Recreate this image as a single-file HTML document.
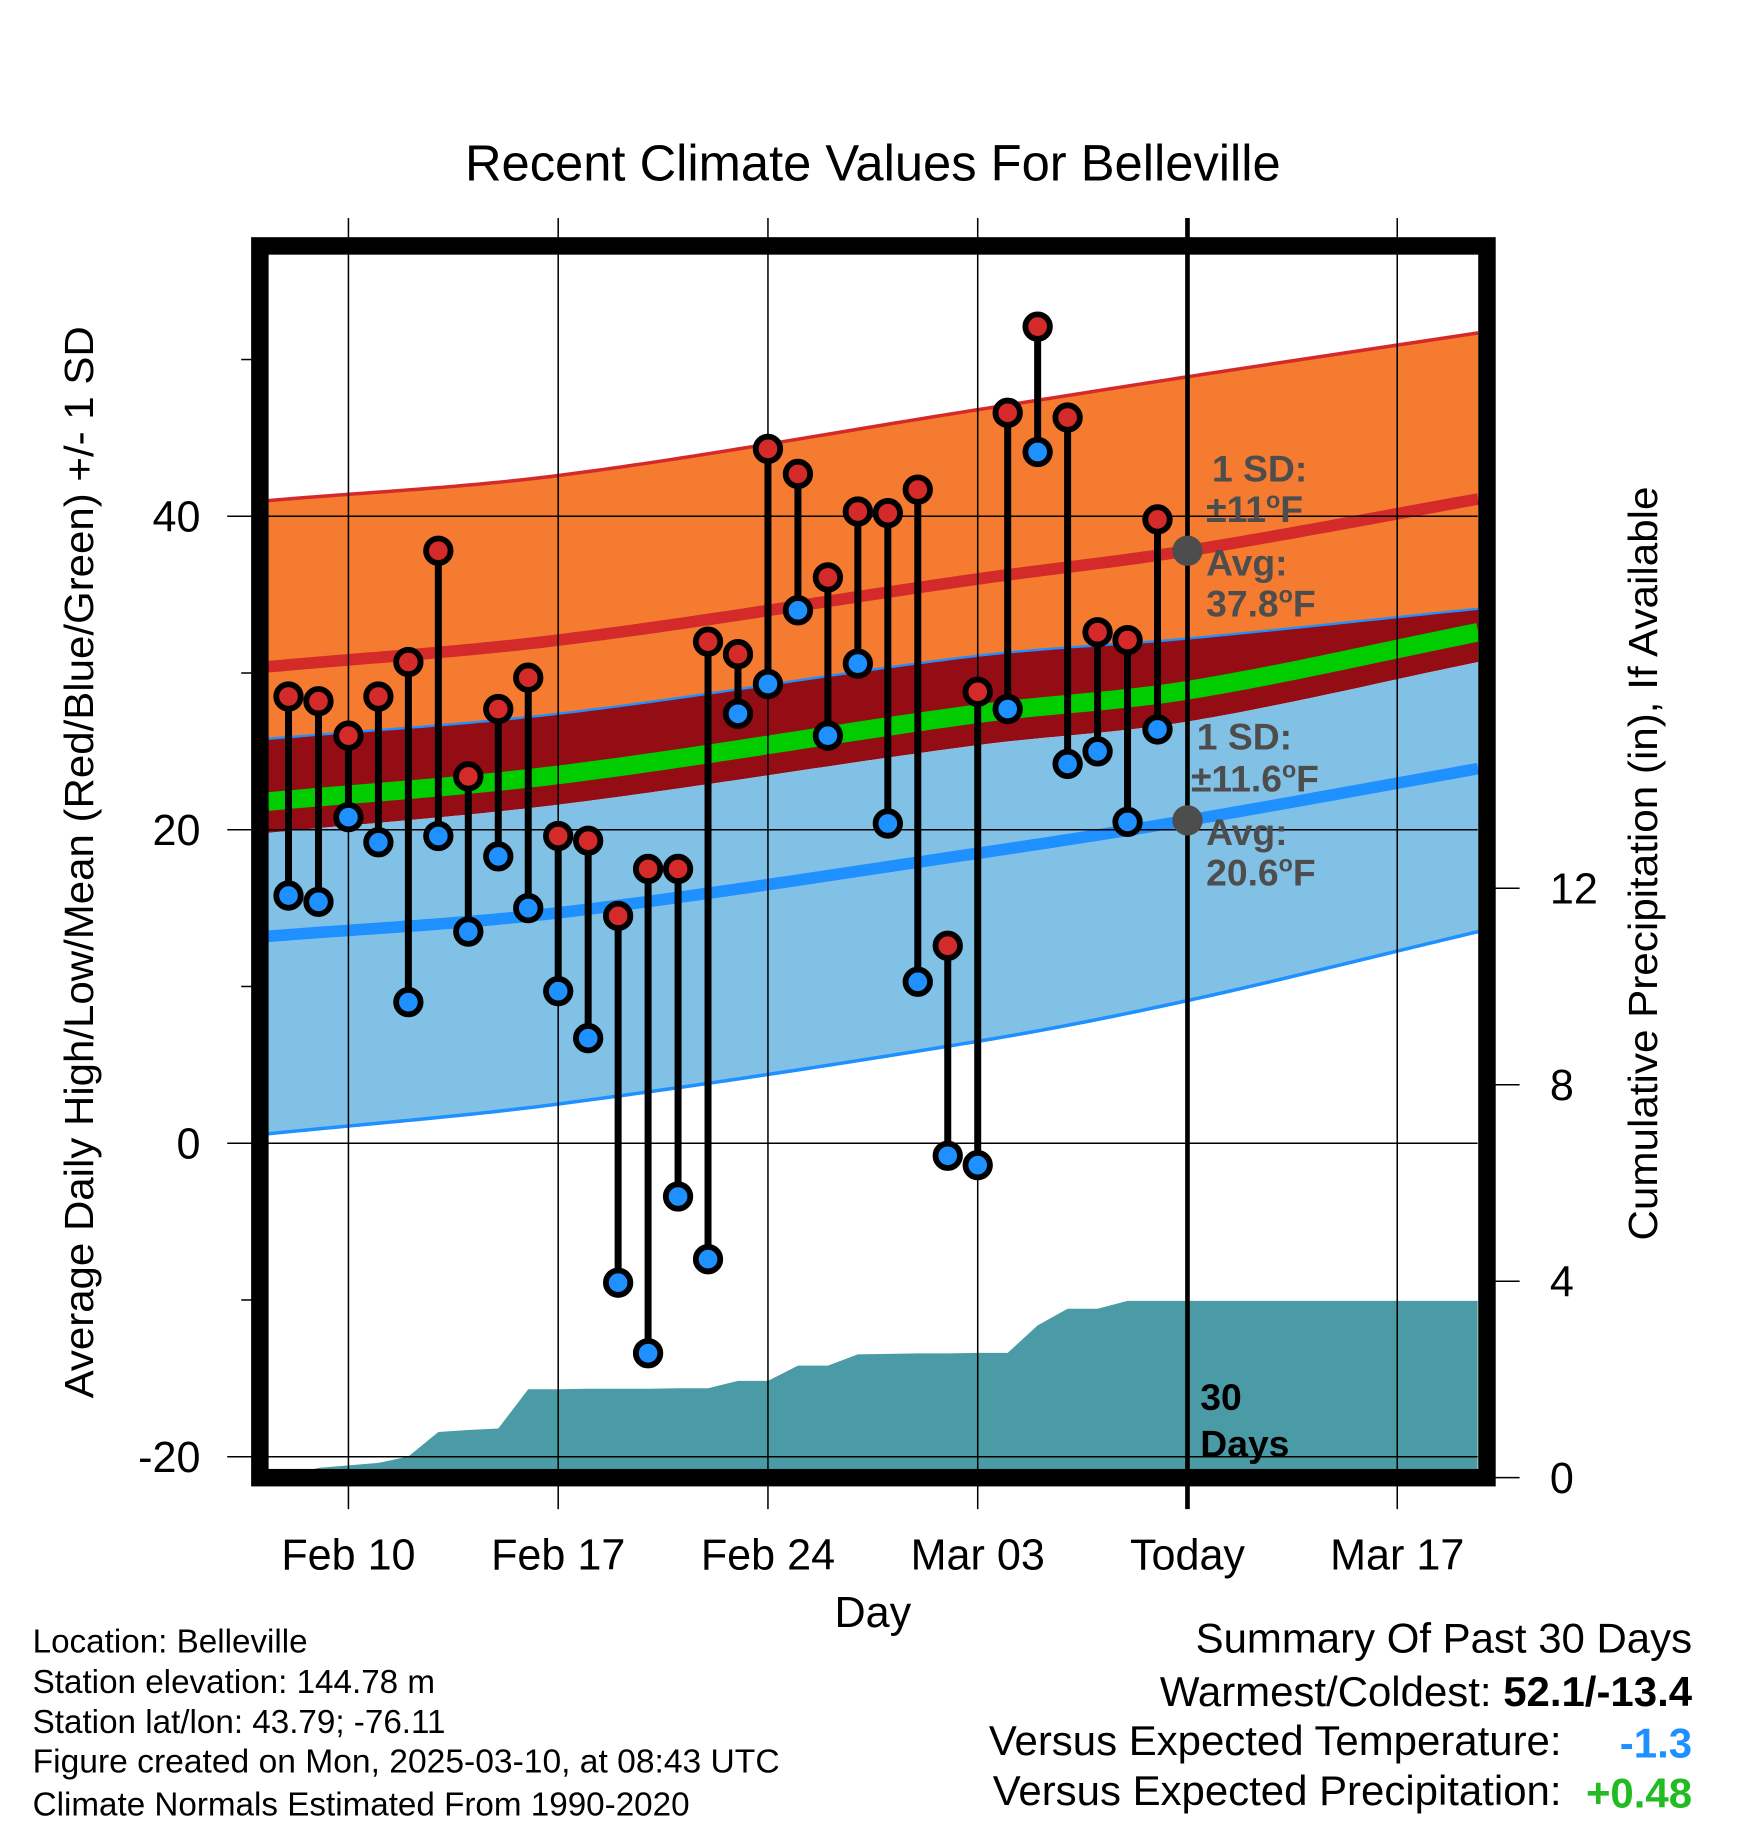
<!DOCTYPE html>
<html><head><meta charset="utf-8"><style>
html,body{margin:0;padding:0;background:#fff;}
svg{display:block;font-family:"Liberation Sans",sans-serif;}
</style></head><body>
<svg id="chart" width="1748" height="1828" viewBox="0 0 1500 1568.6" xmlns="http://www.w3.org/2000/svg">
<g id="bands"></g><g id="precip"></g><g id="grid"></g><g id="marks"></g><g id="labels"></g>
</svg>
<script>
// ---- data ----
const dayLabels = ["Feb 10","Feb 17","Feb 24","Mar 03","Today","Mar 17"];
const dayTickIdx = [0,7,14,21,28,35];
const obsStartIdx = -2; // Feb 8
const highs = [28.5,28.2,26.0,28.5,30.7,37.8,23.4,27.7,29.7,19.6,19.3,14.5,17.5,17.5,32.0,31.2,44.3,42.7,36.1,40.3,40.2,41.7,12.6,28.8,46.6,52.1,46.3,32.6,32.1,39.8];
const lows  = [15.8,15.4,20.8,19.2,9.0,19.6,13.5,18.3,15.0,9.7,6.7,-8.9,-13.4,-3.4,-7.4,27.4,29.3,34.0,26.0,30.6,20.4,10.3,-0.8,-1.4,27.7,44.1,24.2,25.0,20.5,26.4];
const precipCum = [0.05,0.2,0.25,0.3,0.43,0.93,0.97,1.0,1.8,1.8,1.81,1.81,1.81,1.82,1.82,1.97,1.97,2.28,2.28,2.51,2.52,2.53,2.53,2.54,2.54,3.1,3.44,3.44,3.6,3.6];
const normDays = [-2.68,7,21,28,37.7];
const hiPlusSD = [41.0,42.6,46.8,48.9,51.7];
const hiAvg    = [30.4,32.1,36.0,37.8,41.1];
const hiMinusSD= [25.8,27.4,31.1,32.2,34.1];
const meanAvg  = [21.8,23.5,27.4,28.9,32.6];
const loPlusSD = [19.8,21.6,25.4,26.9,30.7];
const loAvg    = [13.2,14.7,18.5,20.6,23.9];
const loMinusSD= [0.6,2.5,6.5,9.1,13.5];
const yTicks = [-20,0,20,40];
const pTicks = [0,4,8,12];

// ---- axes ----
const X = d => 299 + d*180/7;
const Y = v => 981 - 13.45*v;
const P = p => 1268 - 42.15*p;
const L=230,R=1268,T=218,B=1261;
const NS="http://www.w3.org/2000/svg";
function mk(tag,attrs,parent){const e=document.createElementNS(NS,tag);for(const k in attrs)e.setAttribute(k,attrs[k]);parent.appendChild(e);return e;}
// monotone-ish cubic (Catmull-Rom) interpolation for smooth curves
function interp(arr,d){const n=normDays.length;let i=0;while(i<n-2&&d>normDays[i+1])i++;
const x0=normDays[i],x1=normDays[i+1];const t=Math.max(0,Math.min(1,(d-x0)/(x1-x0)));
const slope=k=>{if(k===0)return (arr[1]-arr[0])/(normDays[1]-normDays[0]);if(k===n-1)return (arr[n-1]-arr[n-2])/(normDays[n-1]-normDays[n-2]);return (arr[k+1]-arr[k-1])/(normDays[k+1]-normDays[k-1]);};
const h=x1-x0,m0=slope(i)*h,m1=slope(i+1)*h,t2=t*t,t3=t2*t;
return (2*t3-3*t2+1)*arr[i]+(t3-2*t2+t)*m0+(-2*t3+3*t2)*arr[i+1]+(t3-t2)*m1;}
function pts(arr){const out=[];for(let d=normDays[0];d<=37.7;d+=0.25)out.push([X(d),Y(interp(arr,d))]);out.push([X(37.7),Y(interp(arr,37.7))]);return out;}
function band(top,bot,fill,name){const a=pts(top),b=pts(bot).reverse();const p=mk('polygon',{points:a.concat(b).map(q=>q.join(',')).join(' '),fill:fill},bands);
}
function line(arr,col,w,name){const p=mk('polyline',{points:pts(arr).map(q=>q.join(',')).join(' '),fill:'none',stroke:col,'stroke-width':w},bands);
}
const bands=document.getElementById('bands'),grid=document.getElementById('grid'),marks=document.getElementById('marks'),labels=document.getElementById('labels'),precip=document.getElementById('precip');

band(hiPlusSD,hiMinusSD,'#f47b2f','high-sd-band');
band(hiMinusSD,loPlusSD,'#940d14','overlap-band');
band(loPlusSD,loMinusSD,'#82c1e6','low-sd-band');
line(hiPlusSD,'#d42a2a',3,'high-plus-sd-line');
line(hiMinusSD,'#1e90ff',2,'high-minus-sd-line');
line(loMinusSD,'#1e90ff',3,'low-minus-sd-line');
line(hiAvg,'#d42a2a',10,'avg-high-line');
line(loAvg,'#1e90ff',10,'avg-low-line');
line(meanAvg,'#00cc00',16,'avg-mean-line');

// precipitation
{const ps=[[L,B]];ps.push([L,P(0.02)]);precipCum.forEach((v,i)=>ps.push([X(obsStartIdx+i),P(v)]));ps.push([R,P(precipCum[precipCum.length-1])]);ps.push([R,B]);
const pg=mk('polygon',{points:ps.map(q=>q.join(',')).join(' '),fill:'#4a9ba5'},precip);
}

// grid
dayTickIdx.forEach((d,i)=>{const x=X(d);const isToday=dayLabels[i]==='Today';
const g=mk('line',{x1:x,x2:x,y1:187,y2:1295,stroke:'#000','stroke-width':isToday?4:1.3},grid);

const t=mk('text',{x:x,y:1347,'font-size':37,'text-anchor':'middle'},labels);t.textContent=dayLabels[i];
});
yTicks.forEach(v=>{const y=Y(v);
const g=mk('line',{x1:195,x2:R,y1:y,y2:y,stroke:'#000','stroke-width':1.3},grid);

const t=mk('text',{x:172,y:y+13,'font-size':37,'text-anchor':'end'},labels);t.textContent=v;
});
[-10,10,30,50].forEach(v=>{mk('line',{x1:207,x2:218,y1:Y(v),y2:Y(v),stroke:'#000','stroke-width':1.3},grid);});
pTicks.forEach(v=>{const y=P(v);mk('line',{x1:1280,x2:1304,y1:y,y2:y,stroke:'#000','stroke-width':1.3},grid);
const t=mk('text',{x:1330,y:y+13,'font-size':37},labels);t.textContent=v;
});
// frame
{const f=mk('rect',{x:223,y:211,width:1053,height:1057,fill:'none',stroke:'#000','stroke-width':15},grid);
}

// obs marks
highs.forEach((h,i)=>{const x=X(obsStartIdx+i);const l=lows[i];
const s=mk('line',{x1:x,x2:x,y1:Y(h),y2:Y(l),stroke:'#000','stroke-width':6},marks);

const c1=mk('circle',{cx:x,cy:Y(h),r:10.5,fill:'#d42a2a',stroke:'#000','stroke-width':5},marks);

const c2=mk('circle',{cx:x,cy:Y(l),r:10.5,fill:'#1e90ff',stroke:'#000','stroke-width':5},marks);
});
{const xt=X(28);
const a=mk('circle',{cx:xt,cy:Y(hiAvg[3]),r:13,fill:'#4d4d4d'},marks);
const b=mk('circle',{cx:xt,cy:Y(loAvg[3]),r:13,fill:'#4d4d4d'},marks);}
</script>
<svg style="position:absolute;left:0;top:0" width="1748" height="1828" viewBox="0 0 1500 1568.6" xmlns="http://www.w3.org/2000/svg" font-family="Liberation Sans, sans-serif">
<text x="749" y="155" font-size="43.5" text-anchor="middle" textLength="700" lengthAdjust="spacingAndGlyphs">Recent Climate Values For Belleville</text>
<g fill="#4d4d4d" font-weight="bold" font-size="32">
<text x="1040" y="413">1 SD:</text>
<text x="1035" y="448">±11<tspan font-size="20" dy="-12">o</tspan><tspan dy="12">F</tspan></text>
<text x="1035" y="494">Avg:</text>
<text x="1035" y="529">37.8<tspan font-size="20" dy="-12">o</tspan><tspan dy="12">F</tspan></text>
<text x="1027" y="643">1 SD:</text>
<text x="1022" y="679">±11.6<tspan font-size="20" dy="-12">o</tspan><tspan dy="12">F</tspan></text>
<text x="1035" y="725">Avg:</text>
<text x="1035" y="760">20.6<tspan font-size="20" dy="-12">o</tspan><tspan dy="12">F</tspan></text>
</g>
<text x="1030" y="1210" font-size="32" font-weight="bold">30</text>
<text x="1030" y="1250" font-size="32" font-weight="bold">Days</text>
<text x="749" y="1396" font-size="37" text-anchor="middle">Day</text>
<text transform="translate(80,740) rotate(-90)" font-size="35" text-anchor="middle" textLength="920" lengthAdjust="spacingAndGlyphs">Average Daily High/Low/Mean (Red/Blue/Green) +/- 1 SD</text>
<text transform="translate(1422,741) rotate(-90)" font-size="35" text-anchor="middle" textLength="647" lengthAdjust="spacingAndGlyphs">Cumulative Precipitation (in), If Available</text>
<g font-size="28.5">
<text x="28" y="1418">Location: Belleville</text>
<text x="28" y="1453">Station elevation: 144.78 m</text>
<text x="28" y="1487">Station lat/lon: 43.79; -76.11</text>
<text x="28" y="1521" textLength="641" lengthAdjust="spacingAndGlyphs">Figure created on Mon, 2025-03-10, at 08:43 UTC</text>
<text x="28" y="1558">Climate Normals Estimated From 1990-2020</text>
</g>
<g font-size="36" text-anchor="end">
<text x="1452" y="1418">Summary Of Past 30 Days</text>
<text x="1452" y="1464">Warmest/Coldest: <tspan font-weight="bold">52.1/-13.4</tspan></text>
<text x="1340" y="1506">Versus Expected Temperature:</text>
<text x="1452" y="1508" fill="#1e90ff" font-weight="bold">-1.3</text>
<text x="1340" y="1549">Versus Expected Precipitation:</text>
<text x="1452" y="1551" fill="#22bb22" font-weight="bold">+0.48</text>
</g>
</svg>
</body></html>
